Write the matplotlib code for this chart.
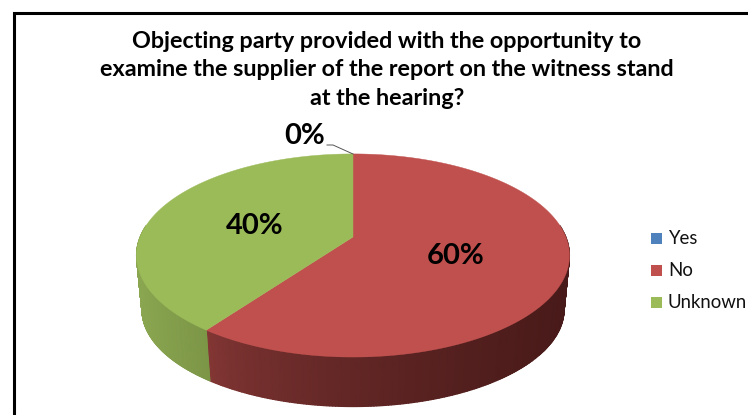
"""3D-style pie chart of whether the objecting party could examine the report's supplier."""

from __future__ import annotations

import numpy as np
import matplotlib
matplotlib.use("Agg")
import matplotlib.pyplot as plt
from matplotlib.colors import LinearSegmentedColormap
from matplotlib.patches import Polygon, Rectangle

plt.rcParams["font.family"] = ["Lato", "DejaVu Sans"]

TITLE = (
    "Objecting party provided with the opportunity to\n"
    "examine the supplier of the report on the witness stand\n"
    "at the hearing?"
)
CATEGORIES = ["Yes", "No", "Unknown"]
VALUES = [0, 60, 40]
COLORS = ["#4f81bd", "#c0504d", "#9bbb59"]

# Side wall shading, left end and right end of the visible wall (by screen x).
SIDE_LEFT = {"No": "#863836", "Unknown": "#8aa650"}
SIDE_RIGHT = {"No": "#481a19", "Unknown": "#7c9647"}

# Pie geometry in pixels.
CX, CY = 353.0, 237.0
RX, RY = 212.9, 98.2
TILT = 0.182
DEPTH = 55.0


def project(theta, scale_x=1.0, scale_y=1.0, drop=0.0):
    """Perspective projection of a disc point; theta runs clockwise from 12 o'clock."""
    x = np.sin(theta)
    y = np.cos(theta)
    w = 1 + TILT * y
    return CX + RX * scale_x * x / w, CY + drop - RY * scale_y * y / w


fig = plt.figure(figsize=(7.48, 4.15), dpi=100)
ax = fig.add_axes([0, 0, 1, 1])
ax.axis("off")

# Outer chart frame.
ax.plot([14, 14, 748], [415, 13, 13], color="black", lw=2.2, solid_joinstyle="miter")

ends = np.cumsum(VALUES) / sum(VALUES) * 2 * np.pi
starts = np.concatenate([[0], ends[:-1]])

# Side wall: a smooth shaded mesh along the front part of each slice.
x_left, x_split, x_right = 137.0, 206.0, 570.0
for name, start, end in zip(CATEGORIES, starts, ends):
    lo = max(start, np.pi / 2 - 0.12)
    hi = min(end, 3 * np.pi / 2 + 0.12)
    if hi <= lo or name not in SIDE_LEFT:
        continue
    theta = np.linspace(lo, hi, 200)
    tx, ty = project(theta)
    bx, by = project(theta, 0.975, 0.955, DEPTH)
    if name == "Unknown":
        span = np.clip((tx - x_left) / (x_split - x_left), 0, 1)
    else:
        span = np.clip((tx - x_split) / (x_right - x_split), 0, 1) ** 0.6
    cmap = LinearSegmentedColormap.from_list(name, [SIDE_LEFT[name], SIDE_RIGHT[name]])
    ax.pcolormesh(np.vstack([tx, bx]), np.vstack([ty, by]), np.vstack([span, span]),
                  cmap=cmap, vmin=0, vmax=1, shading="gouraud")

ax.set_xlim(0, 748)
ax.set_ylim(415, 0)

# Top face of each slice.
for start, end, color in zip(starts, ends, COLORS):
    if end <= start:
        continue
    theta = np.linspace(start, end, 240)
    px, py = project(theta)
    points = np.column_stack([np.r_[CX, px], np.r_[CY, py]])
    ax.add_patch(Polygon(points, closed=True, facecolor=color, edgecolor=color, lw=0.3, zorder=3))

# Data labels.
label_style = dict(ha="center", va="center", fontsize=21, fontweight="bold", color="black", zorder=4)
ax.text(305, 136, f"{VALUES[0]}%", **label_style)
ax.text(255, 226, f"{VALUES[2]}%", **label_style)
ax.text(456, 256, f"{VALUES[1]}%", **label_style)
ax.plot([327, 333, 353], [145, 145, 154], color="#555555", lw=0.7, zorder=4)

# Title.
ax.text(387, 70, TITLE, ha="center", va="center", fontsize=16.8, fontweight="bold",
        color="black", linespacing=1.42)

# Legend.
for i, (name, color) in enumerate(zip(CATEGORIES, COLORS)):
    y = 238 + i * 32
    ax.add_patch(Rectangle((651, y - 5.5), 11, 11, facecolor=color, edgecolor="none"))
    ax.text(668, y, name, ha="left", va="center", fontsize=13.4, color="#111111")

fig.savefig("out.png", dpi=100)
plt.close(fig)
